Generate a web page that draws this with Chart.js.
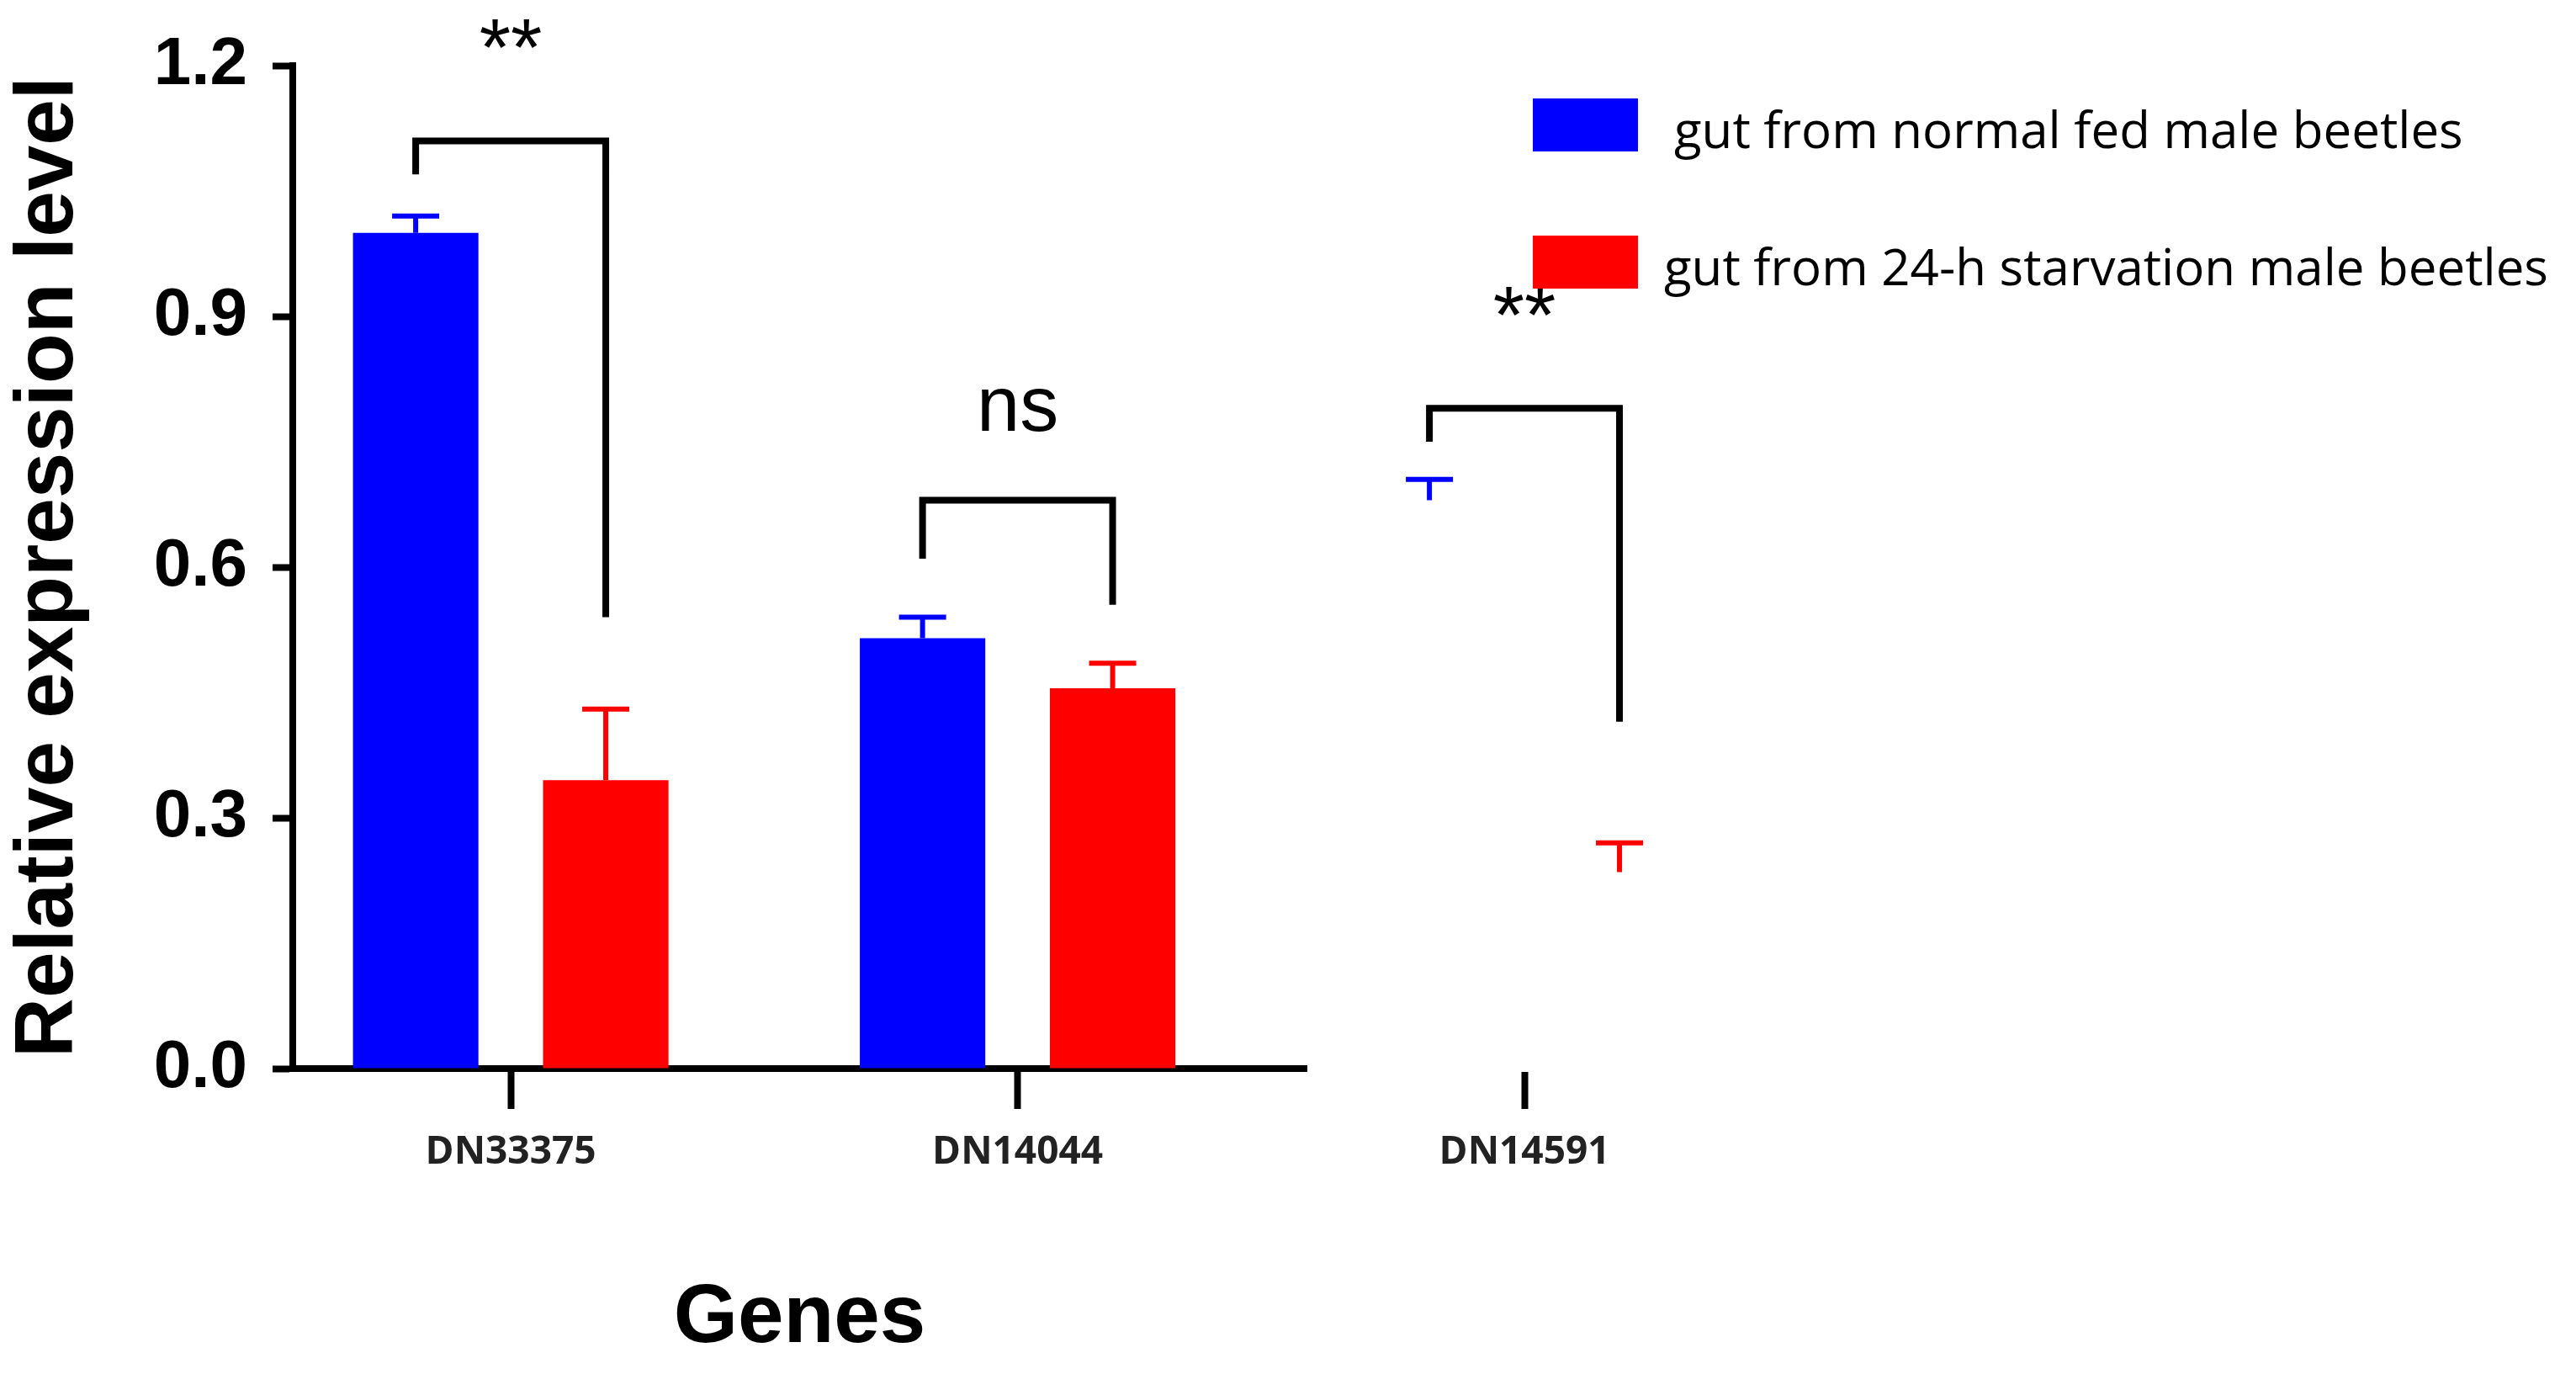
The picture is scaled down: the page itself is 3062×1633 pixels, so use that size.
<!DOCTYPE html>
<html><head><meta charset="utf-8">
<script src="https://cdn.jsdelivr.net/npm/chart.js@4"></script>
<style>html,body{margin:0;padding:0;background:#fff}#w{width:3062px;height:1633px}</style>
</head><body><div id="w"><canvas id="c"></canvas></div>
<script>
const genes = ["DN33375","DN14044","DN14591"];
const normalFed = [1.0, 0.515, 0.68];
const normalErr = [0.02, 0.025, 0.025];
const starved = [0.345, 0.455, 0.235];
const starvedErr = [0.085, 0.03, 0.035];
const sigLabels = ["**","ns","**"];
const sigTop = [1.11, 0.68, 0.79];
const sigLeft = [1.07, 0.61, 0.75];
const sigRight = [0.54, 0.555, 0.415];
const yTicks = [0, 0.3, 0.6, 0.9, 1.2];
const legendLabels = ["gut from normal fed male beetles","gut from 24-h starvation male beetles"];
const colors = ["#0000ff","#ff0000"];

const extras = {
  id:'extras',
  afterDatasetsDraw(chart){
    const ctx = chart.ctx, y = chart.scales.y;
    [[normalFed,normalErr],[starved,starvedErr]].forEach(([v,e],di)=>{
      const meta = chart.getDatasetMeta(di);
      meta.data.forEach((bar,i)=>{
        const yt = y.getPixelForValue(v[i]+e[i]);
        ctx.save(); ctx.strokeStyle = colors[di]; ctx.lineWidth = 6;
        ctx.beginPath(); ctx.moveTo(bar.x, bar.y); ctx.lineTo(bar.x, yt);
        ctx.moveTo(bar.x-28, yt); ctx.lineTo(bar.x+28, yt); ctx.stroke(); ctx.restore();
      });
    });
    const m0 = chart.getDatasetMeta(0), m1 = chart.getDatasetMeta(1);
    genes.forEach((g,i)=>{
      const x1 = m0.data[i].x, x2 = m1.data[i].x;
      const yt = y.getPixelForValue(sigTop[i]);
      ctx.save(); ctx.strokeStyle='#000'; ctx.lineWidth=8; ctx.lineJoin='miter';
      ctx.beginPath();
      ctx.moveTo(x1, y.getPixelForValue(sigLeft[i])); ctx.lineTo(x1, yt);
      ctx.lineTo(x2, yt); ctx.lineTo(x2, y.getPixelForValue(sigRight[i]));
      ctx.stroke();
      ctx.fillStyle='#000'; ctx.textAlign='center'; ctx.textBaseline='alphabetic';
      const isNs = sigLabels[i]==='ns';
      ctx.font = (isNs ? '92px' : '96px') + ' "Liberation Sans", Arial';
      ctx.fillText(sigLabels[i], (x1+x2)/2, isNs ? yt - 83 : yt - 78);
      ctx.restore();
    });
    ctx.save();
    legendLabels.forEach((t,i)=>{
      const top = 117 + i*163;
      ctx.fillStyle = colors[i]; ctx.fillRect(1822, top, 125, 63);
      ctx.fillStyle = '#000'; ctx.font = '60px "Open Sans", "Liberation Sans", Arial';
      ctx.textAlign='left'; ctx.textBaseline='middle';
      ctx.fillText(t, i===0?1990:1978, top+42);
    });
    ctx.restore();
  }
};

new Chart(document.getElementById('c'), {
  type:'bar',
  data:{ labels: genes, datasets:[
    {label:legendLabels[0], data:normalFed, backgroundColor:colors[0]},
    {label:legendLabels[1], data:starved, backgroundColor:colors[1]}
  ]},
  options:{
    responsive:true, maintainAspectRatio:false, animation:false, devicePixelRatio:1,
    layout:{padding:{top:64,right:1509,left:0,bottom:0}},
    plugins:{legend:{display:false}, tooltip:{enabled:false}},
    datasets:{bar:{categoryPercentage:0.75, barPercentage:0.66}},
    scales:{
      x:{
        offset:false,
        afterDataLimits(s){s.min=-0.43; s.max=2.46;},
        afterBuildTicks(s){s.ticks = genes.map((g,i)=>({value:i}));},
        afterFit(s){s.height=363;},
        grid:{drawOnChartArea:false, drawTicks:true, tickLength:48, tickWidth:8, color:'#000', offset:false},
        border:{color:'#000', width:8},
        ticks:{color:'#222', font:{family:'"Open Sans", "Liberation Sans", Arial', size:46, weight:'bold'}, padding:24,
          callback:(v,i)=>genes[i]},
        title:{display:true, text:'Genes', color:'#000', font:{family:'"Liberation Sans", Arial', size:98, weight:'bold'}, padding:{top:0,bottom:6}}
      },
      y:{
        min:0, max:1.2,
        afterFit(s){s.width=348;},
        afterBuildTicks(s){s.ticks = yTicks.map(v=>({value:v}));},
        grid:{drawOnChartArea:false, drawTicks:true, tickLength:24, tickWidth:8, color:'#000'},
        border:{color:'#000', width:8},
        ticks:{color:'#000', font:{family:'"Liberation Sans", Arial', size:80, weight:'bold'}, padding:30,
          callback:v=>v.toFixed(1)},
        title:{display:true, text:'Relative expression level', color:'#000', font:{family:'"Liberation Sans", Arial', size:98, weight:'bold'}, padding:{top:0,bottom:4}}
      }
    }
  },
  plugins:[extras]
});
</script></body></html>
